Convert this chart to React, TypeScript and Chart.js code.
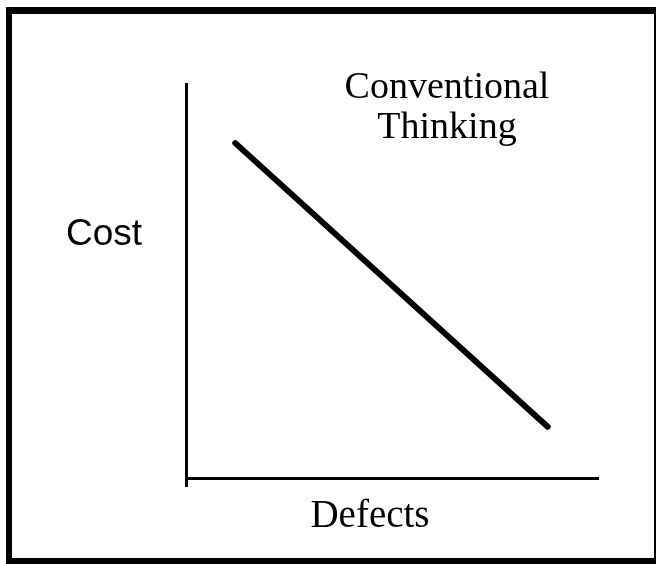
import React, { useEffect, useRef } from "react";
import { Chart, registerables } from "chart.js";

Chart.register(...registerables);

// Data (arbitrary 0-10 units)
const defects: number[] = [1.2, 8.8];
const cost: number[] = [8.5, 1.3];
const xTitle = "Defects";
const yTitle = "Cost";
const noteLines: string[] = ["Conventional", "Thinking"];

const framePlugin = {
  id: "frame",
  beforeDraw(chart: any) {
    const { ctx, width, height } = chart;
    ctx.save();
    ctx.fillStyle = "#ffffff";
    ctx.fillRect(0, 0, width, height);
    ctx.fillStyle = "#000000";
    // scanned border box
    ctx.fillRect(6, 7, width - 6, 7); // top
    ctx.fillRect(6, 7, 6, height - 7); // left
    ctx.fillRect(6, height - 6, width - 6, 6); // bottom
    ctx.fillRect(width - 2, 7, 2, height - 7); // right
    ctx.restore();
  },
};

const textPlugin = {
  id: "texts",
  afterDraw(chart: any) {
    const { ctx, chartArea } = chart;
    ctx.save();
    ctx.fillStyle = "#000000";
    ctx.textAlign = "center";
    ctx.textBaseline = "alphabetic";
    ctx.font = "37px 'Liberation Sans', Arial, sans-serif";
    ctx.fillText(yTitle, chartArea.left - 82, 245);
    ctx.font = "38px 'Liberation Serif', 'Times New Roman', serif";
    noteLines.forEach((t, i) => {
      ctx.fillText(t, chartArea.left + 261, 98 + i * 40);
    });
    ctx.font = "39px 'Liberation Serif', 'Times New Roman', serif";
    ctx.fillText(xTitle, chartArea.left + 184, chartArea.bottom + 49);
    ctx.restore();
  },
};

export default function App() {
  const ref = useRef<HTMLCanvasElement | null>(null);

  useEffect(() => {
    document.body.style.margin = "0";
    if (!ref.current) return;
    const chart = new Chart(ref.current, {
      type: "line",
      data: {
        datasets: [
          {
            data: defects.map((d, i) => ({ x: d, y: cost[i] })),
            borderColor: "#000000",
            borderWidth: 6,
            borderCapStyle: "round",
            pointRadius: 0,
            tension: 0,
            fill: false,
          },
        ],
      },
      options: {
        animation: false,
        responsive: false,
        events: [],
        layout: { padding: { left: 186, top: 84, right: 59, bottom: 77 } },
        plugins: {
          legend: { display: false },
          tooltip: { enabled: false },
          title: { display: false },
        },
        scales: {
          x: {
            type: "linear",
            min: 0,
            max: 10,
            ticks: { display: false, stepSize: 10 },
            grid: {
              display: true,
              drawOnChartArea: false,
              drawTicks: true,
              tickLength: 9,
              lineWidth: 3,
              color: (c: any) => (c.index === 0 ? "#000000" : "rgba(0,0,0,0)"),
            },
            border: { display: true, color: "#000000", width: 3 },
            title: { display: false },
          },
          y: {
            type: "linear",
            min: 0,
            max: 10,
            ticks: { display: false },
            grid: { display: false, drawTicks: false },
            border: { display: true, color: "#000000", width: 3 },
          },
        },
      },
      plugins: [framePlugin, textPlugin],
    });
    return () => chart.destroy();
  }, []);

  return <canvas ref={ref} width={656} height={564} style={{ display: "block" }} />;
}
